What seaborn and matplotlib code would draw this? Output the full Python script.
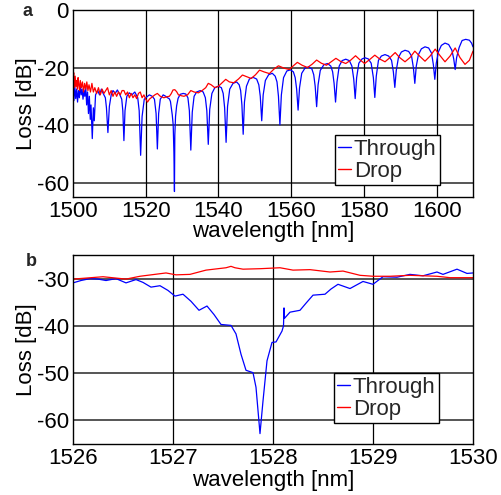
import matplotlib
matplotlib.use("Agg")
import matplotlib.pyplot as plt
import seaborn as sns
import pandas as pd

# ---------------- panel a: full spectrum ----------------
through_wl = [
    1500.0, 1500.25, 1500.5, 1500.75, 1501.0, 1501.25, 1501.5, 1501.75, 1502.0, 1502.25,
    1502.5, 1502.75, 1503.0, 1503.25, 1503.5, 1503.75, 1504.0, 1504.25, 1504.5, 1504.75,
    1504.95, 1505.3, 1505.6, 1505.85, 1506.2, 1506.8, 1507.3, 1507.8, 1508.3, 1508.9,
    1509.2, 1509.6, 1510.0, 1510.5, 1511.0, 1511.6, 1512.2, 1512.8, 1513.4, 1513.7,
    1514.0, 1514.3, 1514.8, 1515.5, 1516.2, 1517.0, 1517.8, 1518.2, 1518.6, 1519.0,
    1519.6, 1520.3, 1521.0, 1521.8, 1522.4, 1522.85, 1523.2, 1523.55, 1524.0, 1524.8,
    1525.5, 1526.0, 1526.5, 1526.8, 1527.0, 1527.3, 1527.55, 1527.75, 1527.9, 1528.0,
    1528.2, 1528.5, 1528.9, 1529.5, 1530.3, 1531.0, 1531.6, 1532.0, 1532.4, 1532.8,
    1533.3, 1534.0, 1535.0, 1535.8, 1536.4, 1536.8, 1537.2, 1537.6, 1538.2, 1539.0,
    1540.0, 1540.8, 1541.3, 1541.7, 1542.1, 1542.5, 1543.1, 1544.0, 1545.0, 1545.7,
    1546.1, 1546.45, 1546.8, 1547.15, 1547.7, 1548.5, 1549.5, 1550.5, 1551.1, 1551.5,
    1551.9, 1552.3, 1552.9, 1553.8, 1554.8, 1555.6, 1556.1, 1556.5, 1556.9, 1557.3,
    1557.9, 1558.8, 1559.8, 1560.6, 1561.1, 1561.5, 1561.9, 1562.3, 1562.9, 1563.8,
    1564.8, 1565.7, 1566.2, 1566.6, 1567.0, 1567.4, 1568.0, 1569.0, 1570.0, 1570.9,
    1571.4, 1571.8, 1572.2, 1572.6, 1573.2, 1574.0, 1575.0, 1576.0, 1576.7, 1577.2,
    1577.6, 1578.0, 1578.6, 1579.5, 1580.3, 1581.2, 1582.0, 1582.6, 1583.0, 1583.4,
    1584.0, 1584.8, 1585.8, 1586.8, 1587.6, 1588.1, 1588.5, 1588.9, 1589.5, 1590.3,
    1591.3, 1592.3, 1593.1, 1593.6, 1594.0, 1594.4, 1595.0, 1595.8, 1596.8, 1597.8,
    1598.6, 1599.1, 1599.5, 1599.9, 1600.5, 1601.3, 1602.3, 1603.3, 1604.2, 1604.7,
    1605.1, 1605.5, 1606.2, 1607.0, 1608.0, 1609.0, 1609.6, 1610.0,
]
through_loss = [
    -27.0, -31.5, -26.5, -30.8, -27.5, -32.0, -28.0, -30.5, -26.0, -29.5,
    -27.5, -31.0, -28.0, -30.0, -26.5, -33.0, -28.5, -36.0, -30.0, -38.0,
    -33.0, -44.7, -34.0, -38.5, -29.5, -28.0, -29.5, -27.5, -29.0, -30.5,
    -34.0, -42.6, -33.5, -29.5, -28.0, -29.0, -27.8, -29.2, -31.0, -35.0,
    -45.4, -35.0, -30.0, -28.8, -29.5, -28.5, -30.5, -35.0, -50.5, -37.0,
    -31.0, -30.2, -29.5, -30.0, -31.0, -36.0, -48.3, -36.0, -31.0, -29.5,
    -30.0, -30.5, -30.9, -31.8, -33.7, -36.5, -39.9, -49.5, -63.1, -43.5,
    -37.0, -33.3, -30.7, -29.3, -29.0, -29.2, -30.5, -35.0, -48.7, -35.5,
    -30.0, -28.5, -28.0, -28.5, -30.5, -35.0, -46.7, -34.5, -29.0, -27.0,
    -26.5, -27.0, -29.0, -34.0, -46.0, -33.5, -27.5, -25.5, -25.0, -26.0,
    -28.0, -33.0, -43.2, -32.0, -26.5, -24.0, -23.4, -24.0, -26.0, -30.0,
    -38.5, -29.5, -24.5, -22.5, -22.0, -23.0, -25.0, -30.0, -39.9, -29.5,
    -23.5, -21.2, -20.8, -21.5, -23.5, -27.5, -34.8, -27.0, -22.0, -20.2,
    -19.8, -20.5, -22.5, -26.5, -33.6, -26.0, -21.0, -19.0, -18.6, -19.5,
    -21.5, -25.5, -32.0, -25.0, -19.5, -17.6, -17.1, -17.6, -19.5, -24.0,
    -30.8, -23.5, -18.5, -17.0, -16.6, -17.0, -18.5, -23.5, -30.4, -23.0,
    -17.5, -16.0, -15.5, -16.0, -17.5, -21.5, -26.9, -21.0, -16.5, -14.6,
    -14.0, -14.4, -16.0, -20.0, -25.5, -19.5, -15.5, -13.5, -12.8, -13.2,
    -15.0, -19.0, -24.1, -18.5, -14.5, -12.3, -11.5, -12.0, -14.0, -17.0,
    -20.7, -16.5, -13.0, -10.6, -10.2, -10.5, -11.5, -12.8,
]

drop_wl = [
    1500.0, 1500.2, 1500.4, 1500.6, 1500.8, 1501.0, 1501.2, 1501.4, 1501.6, 1501.8,
    1502.0, 1502.3, 1502.6, 1502.9, 1503.2, 1503.5, 1503.8, 1504.1, 1504.4, 1504.8,
    1505.2, 1505.6, 1506.0, 1506.5, 1507.0, 1507.5, 1508.0, 1508.5, 1509.0, 1509.5,
    1510.0, 1510.5, 1511.0, 1511.5, 1512.0, 1512.5, 1513.0, 1513.5, 1514.0, 1514.5,
    1515.0, 1515.5, 1516.0, 1516.5, 1517.0, 1517.5, 1518.0, 1518.5, 1519.0, 1519.5,
    1520.0, 1520.5, 1521.0, 1521.5, 1522.0, 1522.5, 1523.2, 1524.0, 1525.0, 1526.0,
    1526.5, 1527.0, 1527.5, 1528.0, 1528.5, 1529.0, 1529.8, 1530.5, 1531.5, 1532.4,
    1533.3, 1534.5, 1535.5, 1536.5, 1537.2, 1538.0, 1539.0, 1540.0, 1541.0, 1542.0,
    1543.0, 1544.2, 1545.5, 1546.6, 1547.8, 1549.0, 1550.2, 1551.3, 1552.5, 1554.0,
    1555.3, 1556.5, 1558.0, 1559.5, 1560.5, 1561.7, 1563.0, 1564.5, 1565.8, 1567.0,
    1568.3, 1569.7, 1571.0, 1572.3, 1573.5, 1575.0, 1576.3, 1577.7, 1578.8, 1580.2,
    1581.6, 1583.0, 1584.3, 1585.8, 1587.2, 1588.6, 1589.8, 1591.3, 1592.7, 1594.0,
    1595.3, 1596.8, 1598.2, 1599.6, 1600.9, 1602.3, 1603.7, 1605.1, 1606.4, 1607.8,
    1609.0, 1610.0,
]
drop_loss = [
    -24.0, -21.8, -27.0, -23.0, -26.5, -24.5, -27.5, -23.5, -26.0, -28.0,
    -24.5, -27.0, -25.0, -28.5, -25.5, -27.5, -25.0, -28.0, -26.0, -28.5,
    -25.5, -28.5, -27.0, -29.0, -27.0, -29.5, -27.5, -29.0, -28.0, -27.0,
    -29.5, -28.0, -30.0, -28.5, -30.0, -28.5, -29.5, -28.0, -28.0, -29.5,
    -28.5, -30.5, -29.0, -30.5, -29.5, -30.8, -29.0, -28.5, -30.5, -29.5,
    -31.0, -32.0, -31.0, -30.5, -30.0, -29.5, -29.0, -30.0, -30.5, -30.1,
    -30.0, -29.1, -27.8, -27.7, -28.4, -29.5, -29.8, -30.0, -29.5, -28.0,
    -28.5, -28.8, -28.0, -27.0, -25.5, -26.0, -27.0, -26.5, -25.3, -24.1,
    -25.0, -25.3, -24.0, -22.6, -23.2, -23.8, -22.5, -20.9, -21.5, -22.1,
    -20.5, -19.4, -20.2, -20.7, -19.5, -18.2, -19.2, -20.0, -18.8, -17.4,
    -18.5, -19.2, -18.0, -16.8, -17.8, -18.6, -17.5, -15.9, -17.2, -18.6,
    -17.2, -15.7, -17.0, -18.0, -16.5, -14.8, -16.5, -18.0, -16.5, -14.3,
    -16.0, -17.8, -16.0, -13.6, -15.8, -18.0, -16.0, -13.2, -16.5, -18.9,
    -17.5, -14.3,
]

# ---------------- panel b: zoom on one resonance ----------------
zoom_through_wl = [
    1526.0, 1526.08, 1526.17, 1526.25, 1526.33, 1526.43, 1526.53, 1526.63, 1526.7, 1526.78,
    1526.87, 1526.95, 1527.02, 1527.1, 1527.18, 1527.26, 1527.34, 1527.41, 1527.48, 1527.58,
    1527.63, 1527.68, 1527.73, 1527.8, 1527.83, 1527.87, 1527.9, 1527.94, 1527.99, 1528.03,
    1528.09, 1528.105, 1528.11, 1528.115, 1528.17, 1528.27, 1528.33, 1528.4, 1528.52, 1528.58,
    1528.65, 1528.77, 1528.9, 1529.0, 1529.1, 1529.24, 1529.37, 1529.5, 1529.64, 1529.7,
    1529.84, 1529.94, 1530.0,
]
zoom_through_loss = [
    -30.9, -30.4, -30.0, -30.1, -30.4, -30.0, -30.9, -30.2, -30.8, -31.8,
    -31.5, -32.5, -33.7, -33.3, -34.8, -36.7, -35.8, -37.6, -39.7, -39.9,
    -41.7, -46.0, -49.4, -49.9, -53.0, -62.8, -55.9, -47.4, -43.5, -43.4,
    -41.1, -40.0, -36.2, -38.4, -37.1, -36.7, -35.2, -33.5, -33.3, -32.2,
    -31.2, -32.1, -30.6, -31.2, -29.6, -29.7, -29.1, -29.4, -28.6, -29.1,
    -28.0, -28.9, -28.8,
]
zoom_drop_wl = [
    1526.0, 1526.3, 1526.53, 1526.67, 1526.93, 1527.03, 1527.17, 1527.33, 1527.53, 1527.58,
    1527.62, 1527.7, 1527.87, 1528.07, 1528.2, 1528.37, 1528.57, 1528.7, 1528.87, 1529.0,
    1529.17, 1529.37, 1529.64, 1529.77, 1530.0,
]
zoom_drop_loss = [
    -30.1, -29.6, -30.1, -29.5, -28.8, -29.2, -29.1, -28.2, -27.7, -27.4,
    -27.7, -28.0, -27.9, -27.7, -28.2, -28.1, -28.6, -28.4, -29.3, -29.5,
    -29.5, -29.3, -29.5, -29.8, -29.8,
]

series_names = ["Through", "Drop"]
series_colors = ["#0000ff", "#ff0000"]

xticks_a = [1500, 1520, 1540, 1560, 1580, 1600]
yticks_a = [0, -20, -40, -60]
xticks_b = [1526, 1527, 1528, 1529, 1530]
yticks_b = [-30, -40, -50, -60]

df_a = pd.concat([
    pd.DataFrame({"wl": through_wl, "loss": through_loss, "series": series_names[0]}),
    pd.DataFrame({"wl": drop_wl, "loss": drop_loss, "series": series_names[1]}),
], ignore_index=True)
df_b = pd.concat([
    pd.DataFrame({"wl": zoom_through_wl, "loss": zoom_through_loss, "series": series_names[0]}),
    pd.DataFrame({"wl": zoom_drop_wl, "loss": zoom_drop_loss, "series": series_names[1]}),
], ignore_index=True)

sns.set_theme(style="white")
plt.rcParams["font.family"] = ["Liberation Sans", "DejaVu Sans"]
plt.rcParams["axes.unicode_minus"] = False

fig = plt.figure(figsize=(5.02, 4.95), dpi=100)
ax_a = fig.add_axes([73 / 502, 1 - 197 / 495, 400 / 502, 187 / 495])
ax_b = fig.add_axes([73 / 502, 1 - 444 / 495, 400 / 502, 189 / 495])

palette = dict(zip(series_names, series_colors))


def style_axes(ax, xticks, yticks, xlim, ylim, xlab_y, ylab_x):
    ax.set_xlim(*xlim)
    ax.set_ylim(*ylim)
    ax.set_xticks(xticks)
    ax.set_yticks(yticks)
    ax.set_xticklabels([str(t) for t in xticks])
    ax.set_yticklabels([str(t) for t in yticks])
    ax.grid(False)
    for t in yticks:
        if ylim[0] < t < ylim[1]:
            ax.axhline(t, color="#555555", lw=1.4, zorder=0.5)
    for t in xticks:
        if xlim[0] < t < xlim[1]:
            ax.axvline(t, color="black", lw=0.9, zorder=0.5)
    for s in ax.spines.values():
        s.set_color("black")
        s.set_linewidth(1.0)
        s.set_visible(True)
    ax.tick_params(axis="both", direction="in", length=3, width=0.8, color="black",
                   labelsize=16, pad=3.0, labelcolor="black",
                   top=False, right=False)
    ax.set_xlabel("wavelength [nm]", fontsize=16, color="black")
    ax.set_ylabel("Loss [dB]", fontsize=16, color="black")
    ax.xaxis.set_label_coords(0.5, xlab_y)
    ax.yaxis.set_label_coords(ylab_x, 0.5)
    handles, labels = ax.get_legend_handles_labels()
    if ax.get_legend() is not None:
        ax.get_legend().remove()
    return handles, labels


for ax, df in [(ax_a, df_a), (ax_b, df_b)]:
    sns.lineplot(data=df, x="wl", y="loss", hue="series", hue_order=series_names,
                 palette=palette, estimator=None, sort=False, lw=0.9, ax=ax, zorder=2)

h, l = style_axes(ax_a, xticks_a, yticks_a, (1500, 1610), (-65, 0),
                  (197 - 221) / 187, (37 - 73) / 400)
ax_a.legend(h, l, loc="lower left", bbox_to_anchor=(262 / 400, 12 / 187), fontsize=16,
            frameon=True, fancybox=False, edgecolor="black", framealpha=1,
            handlelength=0.55, handletextpad=0.15, borderpad=0.15, labelspacing=0.05,
            borderaxespad=0)
h, l = style_axes(ax_b, xticks_b, yticks_b, (1526, 1530), (-65, -25),
                  (444 - 470) / 189, (37 - 73) / 400)
ax_b.legend(h, l, loc="lower left", bbox_to_anchor=(261 / 400, 21 / 189), fontsize=16,
            frameon=True, fancybox=False, edgecolor="black", framealpha=1,
            handlelength=0.55, handletextpad=0.15, borderpad=0.15, labelspacing=0.05,
            borderaxespad=0)
for lg in [ax_a.get_legend(), ax_b.get_legend()]:
    lg.get_frame().set_linewidth(1.0)
    for line in lg.get_lines():
        line.set_linewidth(1.0)

fig.text(23 / 502, 1 - 12 / 495, "a", fontsize=13, fontweight="bold", ha="left", va="center")
fig.text(26 / 502, 1 - 261 / 495, "b", fontsize=13, fontweight="bold", ha="left", va="center")

fig.savefig("out.png", dpi=100)
